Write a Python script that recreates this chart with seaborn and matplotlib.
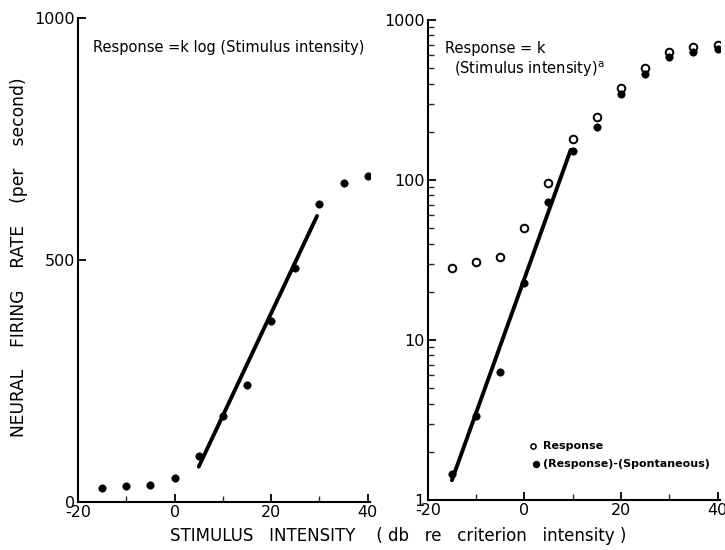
import matplotlib
matplotlib.use("Agg")
import matplotlib.pyplot as plt
import seaborn as sns
import pandas as pd
import numpy as np
from matplotlib.ticker import LogLocator, NullFormatter, FixedLocator

sns.set_theme(style="white")
plt.rcParams['font.family'] = ['DejaVu Sans']
plt.rcParams['axes.unicode_minus'] = False
plt.rcParams['text.color'] = 'black'
plt.rcParams['axes.labelcolor'] = 'black'

# ---- data ----
intensity = [-15, -10, -5, 0, 5, 10, 15, 20, 25, 30, 35, 40]
left_rate = [28, 32, 35, 49, 96, 178, 242, 374, 483, 616, 659, 674]
response = [28, 30.5, 33, 50, 95, 180, 247, 374, 499, 634, 675, 698]
resp_minus_spont = [1.45, 3.36, 6.3, 22.6, 72.6, 152, 215, 345, 460, 590, 628, 656]

left_fit_x = [5, 29.5]
left_fit_y = [73, 591]
right_fit_x = [-15, 9.6]
right_fit_y = [1.33, 154]

left_df = pd.DataFrame({"x": intensity, "y": left_rate})
right_df = pd.DataFrame({"x": intensity, "resp": response, "diff": resp_minus_spont})

fig = plt.figure(figsize=(7.25, 5.5), dpi=100)
axL = fig.add_axes([0.1076, 0.0873, 0.403, 0.880])
axR = fig.add_axes([0.590, 0.0909, 0.403, 0.873])

# ---- left panel ----
sns.lineplot(x=left_fit_x, y=left_fit_y, ax=axL, color="black", linewidth=2.8)
sns.scatterplot(data=left_df, x="x", y="y", ax=axL, color="black", s=28,
                edgecolor="black", linewidth=0.5, zorder=3)
axL.set_xlim(-20, 40.5)
axL.set_ylim(0, 1000)
axL.set_xticks([-20, 0, 20, 40])
axL.set_xticks([-10, 10, 30], minor=True)
axL.set_yticks([0, 500, 1000])
axL.set_xlabel("")
axL.set_ylabel("")
axL.text(0.05, 0.955, "Response =k log (Stimulus intensity)", transform=axL.transAxes,
         fontsize=10.5, va="top", ha="left")

# ---- right panel ----
sns.lineplot(x=right_fit_x, y=right_fit_y, ax=axR, color="black", linewidth=2.8)
sns.scatterplot(data=right_df, x="x", y="resp", ax=axR, marker="o", s=30,
                facecolor="white", edgecolor="black", linewidth=1.4, zorder=3)
sns.scatterplot(data=right_df, x="x", y="diff", ax=axR, marker="o", s=28,
                color="black", edgecolor="black", linewidth=0.5, zorder=4)
axR.set_yscale("log")
axR.set_xlim(-20, 40.5)
axR.set_ylim(1, 1000)
axR.set_xticks([-20, 0, 20, 40])
axR.set_xticks([-10, 10, 30], minor=True)
axR.yaxis.set_major_locator(FixedLocator([1, 10, 100, 1000]))
axR.set_yticklabels(["1", "10", "100", "1000"])
axR.yaxis.set_minor_locator(LogLocator(base=10, subs=np.arange(2, 10)))
axR.yaxis.set_minor_formatter(NullFormatter())
axR.set_xlabel("")
axR.set_ylabel("")
axR.text(0.06, 0.955, "Response = k", transform=axR.transAxes,
         fontsize=10.5, va="top", ha="left")
axR.text(0.09, 0.918, r"(Stimulus intensity)$^{\mathrm{a}}$", transform=axR.transAxes,
         fontsize=10.5, va="top", ha="left")

# legend (manual, in axes coords)
axR.scatter([0.36], [0.1125], transform=axR.transAxes, s=14, facecolor="white",
            edgecolor="black", linewidth=1.1, clip_on=False)
axR.scatter([0.37], [0.075], transform=axR.transAxes, s=18, color="black", clip_on=False)
axR.text(0.394, 0.1125, "Response", transform=axR.transAxes, fontsize=8,
         fontweight="bold", va="center")
axR.text(0.394, 0.075, "(Response)-(Spontaneous)", transform=axR.transAxes, fontsize=8,
         fontweight="bold", va="center")

for ax in (axL, axR):
    sns.despine(ax=ax)
    for s in ("left", "bottom"):
        ax.spines[s].set_color("black")
        ax.spines[s].set_linewidth(1.5)
    ax.tick_params(axis="both", which="major", direction="in", length=6, width=1.3,
                   labelsize=11.5, colors="black", left=True, bottom=True, pad=2)
    ax.tick_params(axis="both", which="minor", direction="in", length=4, width=1,
                   left=True, bottom=True)
    if ax.get_legend() is not None:
        ax.get_legend().remove()

fig.text(0.026, 0.533, "NEURAL    FIRING    RATE    (per    second)",
         rotation=90, ha="center", va="center", fontsize=12.3)
fig.text(0.549, 0.025, "STIMULUS   INTENSITY    ( db   re   criterion   intensity )",
         ha="center", va="center", fontsize=12)

fig.savefig("out.png", dpi=100)
